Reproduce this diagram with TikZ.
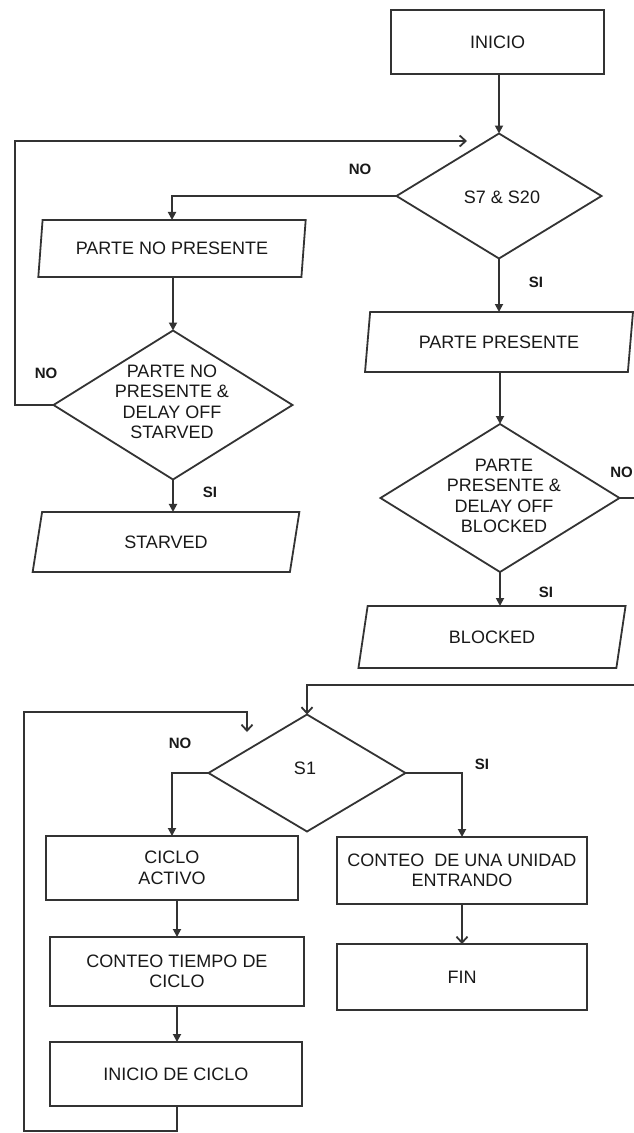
\documentclass[tikz,border=0pt]{standalone}
\usepackage{fontspec}
\setmainfont{Liberation Sans}
\usetikzlibrary{shapes.geometric,arrows.meta}

\begin{document}
\begin{tikzpicture}[x=1pt,y=-1pt,
  every node/.style={font=\fontsize{18}{20.5}\selectfont, text=black!90},
  line/.style={draw=black!80, line width=1.8pt},
  arr/.style={line, -{Triangle[length=8pt,width=8pt]}},
  barb/.style={line, -{Straight Barb[length=6pt,width=11pt]}},
  procbox/.style={rectangle, line, inner sep=0pt, outer sep=0pt, align=center},
  iobox/.style={trapezium, trapezium left angle=76, trapezium right angle=104,
    trapezium stretches=true, line, inner sep=0pt, outer sep=0pt,
    minimum width=268, align=center},
  decision/.style={diamond, line, inner sep=0pt, outer sep=0pt},
  dtext/.style={align=center, inner sep=0pt},
  answer/.style={font=\bfseries\fontsize{15}{17}\selectfont, inner sep=0pt},
]
\path[use as bounding box, fill=white] (0,0) rectangle (634,1133);
\clip (0,0) rectangle (634,1133);

% upper part: part detection
\node[procbox, minimum width=213, minimum height=64] (inicio) at (497.5,42) {INICIO};
\node[decision, minimum width=205, minimum height=125] (d1) at (499,196) {};
\node[dtext] (d1t) at (502,197) {S7 \& S20};

\node[iobox, minimum height=57] (pnp) at (172,248.5) {PARTE NO PRESENTE};
\node[decision, minimum width=239, minimum height=149] (d2) at (173,405) {};
\node[dtext] (d2t) at (172,402) {PARTE NO\\PRESENTE \&\\DELAY OFF\\STARVED};
\node[iobox, minimum height=60] (starved) at (166,542) {STARVED};

\node[iobox, minimum height=60] (pp) at (499,342) {PARTE PRESENTE};
\node[decision, minimum width=239, minimum height=148] (d3) at (500,498) {};
\node[dtext] (d3t) at (504,496) {PARTE\\PRESENTE \&\\DELAY OFF\\BLOCKED};
\node[iobox, minimum height=62] (blocked) at (492,637) {BLOCKED};

% lower part: cycle counting
\node[decision, minimum width=197, minimum height=117] (d4) at (307,773) {};
\node[dtext] (d4t) at (305,768) {S1};
\node[procbox, minimum width=252, minimum height=64] (ciclo) at (172,868) {CICLO\\ACTIVO};
\node[procbox, minimum width=254, minimum height=69] (tiempo) at (177,971.5) {CONTEO TIEMPO DE\\CICLO};
\node[procbox, minimum width=252, minimum height=64] (inciclo) at (176,1074) {INICIO DE CICLO};
\node[procbox, minimum width=250, minimum height=67] (unidad) at (462,870.5) {CONTEO \ DE UNA UNIDAD\\ENTRANDO};
\node[procbox, minimum width=250, minimum height=66] (fin) at (462,977) {FIN};

% branch labels
\node[answer] (no1) at (360,169) {NO};
\node[answer] (si1) at (536,282) {SI};
\node[answer] (no2) at (46,373) {NO};
\node[answer] (si2) at (210,492) {SI};
\node[answer, anchor=east] (no3) at (633,472) {NO};
\node[answer] (si3) at (546,592) {SI};
\node[answer] (no4) at (180,743) {NO};
\node[answer] (si4) at (482,764) {SI};

% loose ends and rails
\coordinate (loopA) at (467,141);
\coordinate (railL) at (15,141);
\coordinate (edgeR) at (640,498);
\coordinate (edgeIn) at (640,685);
\coordinate (railB) at (24,712);
\coordinate (bottomRail) at (24,1131);
\coordinate (loopB) at (247,732);

% connectors
\draw[arr] (inicio.south -| d1.north) -- (d1.north);
\draw[arr] (d1.west) -| (pnp.north);
\draw[arr] (d2.north |- pnp.south) -- (d2.north);
\draw[arr] (d2.south) -- (d2.south |- starved.north);
\draw[barb] (d2.west) -| (railL) -- (loopA);

\draw[arr] (d1.south) -- (d1.south |- pp.north);
\draw[arr] (d3.north |- pp.south) -- (d3.north);
\draw[line] (d3.east) -- (edgeR);
\draw[arr] (d3.south) -- (d3.south |- blocked.north);

\draw[barb] (edgeIn) -| (d4.north);
\draw[arr] (d4.west) -| (ciclo.north);
\draw[arr] (d4.east) -| (unidad.north);
\draw[arr] (tiempo.north |- ciclo.south) -- (tiempo.north);
\draw[arr] (tiempo.south) -- (tiempo.south |- inciclo.north);
\draw[barb] (unidad.south) -- (fin.north);
\draw[barb] (tiempo.south |- inciclo.south) |- (bottomRail) -- (railB) -| (loopB);
\end{tikzpicture}
\end{document}
